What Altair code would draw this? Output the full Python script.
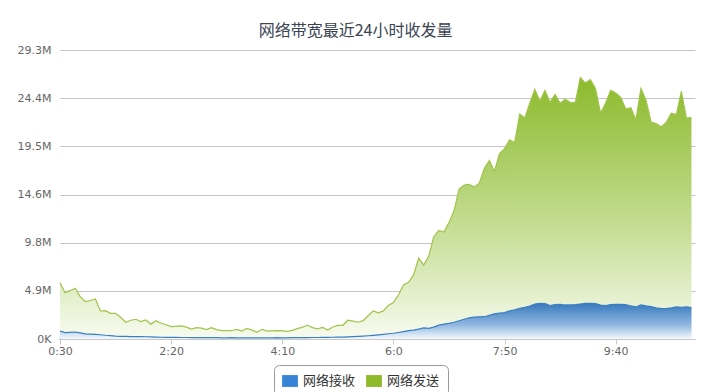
import json
import altair as alt
import pandas as pd

# ---- data (values in M, one sample every 5 minutes starting 0:30) ----
series_names = ["网络接收", "网络发送"]
start_minute = 30
step_minutes = 5

send_values = [
    5.71, 4.69, 4.9, 5.14, 4.3, 3.8, 3.9, 4.06, 2.84, 2.87,
    2.6, 2.6, 2.2, 1.7, 1.9, 2.0, 1.76, 1.93, 1.5, 1.86,
    1.6, 1.45, 1.25, 1.28, 1.32, 1.2, 1.01, 1.15, 1.1, 0.95,
    1.15, 0.95, 0.85, 0.84, 0.84, 0.98, 0.81, 1.08, 0.9, 0.68,
    0.98, 0.8, 0.82, 0.84, 0.82, 0.78, 0.88, 1.05, 1.2, 1.39,
    1.15, 1.02, 1.18, 0.9, 1.22, 1.38, 1.39, 1.9, 1.82, 1.7,
    1.86, 2.36, 2.85, 2.65, 2.85, 3.4, 3.7, 4.46, 5.47, 5.75,
    6.5, 8.2, 7.5, 8.4, 10.4, 11.0, 10.85, 11.8, 13.0, 15.2,
    15.6, 15.68, 15.4, 15.8, 17.3, 18.1, 17.0, 18.8, 19.3, 20.2,
    19.9, 22.8, 22.4, 23.9, 25.3, 24.1, 25.2, 24.0, 24.8, 23.9,
    24.3, 24.0, 23.96, 26.5, 25.95, 26.3, 25.4, 22.9, 23.9, 25.2,
    24.95, 24.5, 23.3, 23.45, 22.2, 25.4, 24.2, 22.0, 21.85, 21.5,
    21.95, 22.9, 22.75, 25.1, 22.4, 22.45,
]

recv_values = [
    0.81, 0.65, 0.68, 0.71, 0.62, 0.52, 0.5, 0.47, 0.43, 0.38,
    0.35, 0.3, 0.27, 0.26, 0.25, 0.25, 0.24, 0.23, 0.21, 0.2,
    0.18, 0.17, 0.17, 0.16, 0.15, 0.15, 0.14, 0.14, 0.13, 0.13,
    0.14, 0.13, 0.12, 0.12, 0.13, 0.12, 0.12, 0.11, 0.12, 0.12,
    0.11, 0.12, 0.12, 0.13, 0.12, 0.12, 0.13, 0.13, 0.14, 0.14,
    0.15, 0.15, 0.16, 0.17, 0.18, 0.19, 0.2, 0.22, 0.24, 0.27,
    0.3, 0.33, 0.37, 0.42, 0.47, 0.53, 0.58, 0.66, 0.75, 0.85,
    0.9, 1.0, 1.12, 1.08, 1.2, 1.4, 1.5, 1.58, 1.7, 1.85,
    2.0, 2.15, 2.22, 2.25, 2.26, 2.4, 2.55, 2.62, 2.67, 2.85,
    2.95, 3.1, 3.2, 3.35, 3.55, 3.62, 3.6, 3.4, 3.5, 3.52,
    3.45, 3.45, 3.48, 3.55, 3.62, 3.62, 3.6, 3.45, 3.38, 3.5,
    3.52, 3.52, 3.5, 3.35, 3.25, 3.45, 3.35, 3.28, 3.15, 3.08,
    3.08, 3.15, 3.25, 3.22, 3.25, 3.18,
]

x_tick_minutes = [30, 140, 250, 360, 470, 580]
y_max = 29.3
y_tick_labels = ["0K", "4.9M", "9.8M", "14.6M", "19.5M", "24.4M", "29.3M"]

# ---- tables ----
n = min(len(send_values), len(recv_values))
minutes = [start_minute + step_minutes * i for i in range(n)]
df_send = pd.DataFrame({"t": minutes, "v": send_values[:n]})
df_recv = pd.DataFrame({"t": minutes, "v": recv_values[:n]})
df_legend = pd.DataFrame({"t": [start_minute, start_minute], "v": [0, 0], "s": series_names})

y_step = y_max / (len(y_tick_labels) - 1)
y_ticks = [round(y_step * k, 4) for k in range(len(y_tick_labels))]
label_arr = json.dumps(y_tick_labels, ensure_ascii=False)

BLUE = "#3a7fc2"
GREEN = "#a0c44a"
CJK = "Noto Sans CJK SC"

x_enc = alt.X(
    "t:Q",
    scale=alt.Scale(domain=[30, 658.5], nice=False, zero=False),
    axis=alt.Axis(
        values=x_tick_minutes,
        labelExpr="floor(datum.value/60) + ':' + (datum.value % 60)",
        grid=False, domain=True, domainColor="#c8c8c8", ticks=True, tickSize=5,
        tickColor="#c8c8c8", labelPadding=1, labelFont="DejaVu Sans", labelFontSize=11,
        labelColor="#666", title=None, labelFlush=False,
    ),
)
y_enc = alt.Y(
    "v:Q",
    scale=alt.Scale(domain=[0, y_max], nice=False),
    axis=alt.Axis(
        values=y_ticks,
        labelExpr=f"{label_arr}[round(datum.value/{y_step})]",
        grid=True, gridColor="#c4c4c4", domain=False, ticks=False,
        labelPadding=9, labelFont="DejaVu Sans", labelFontSize=11, labelColor="#666",
        title=None,
    ),
)

green_grad = alt.Gradient(
    gradient="linear", x1=0, x2=0, y1=0, y2=1,
    stops=[alt.GradientStop(color="#8cba2c", offset=0),
           alt.GradientStop(color="#c2dc8f", offset=0.55),
           alt.GradientStop(color="#f8fbf0", offset=1)],
)
blue_grad = alt.Gradient(
    gradient="linear", x1=0, x2=0, y1=0, y2=1,
    stops=[alt.GradientStop(color="#3879bd", offset=0),
           alt.GradientStop(color="#8fb7e0", offset=0.6),
           alt.GradientStop(color="#f5f9fd", offset=1)],
)

legend_layer = alt.Chart(df_legend).mark_point(filled=True, size=1, opacity=1).encode(
    x=x_enc, y=y_enc,
    color=alt.Color(
        "s:N",
        scale=alt.Scale(domain=series_names, range=["#3784d6", "#8fbb2b"]),
        legend=alt.Legend(
            title=None, orient="none", legendX=214, legendY=315, direction="horizontal",
            symbolType="M-1,-0.75 L1,-0.75 L1,0.75 L-1,0.75 Z", symbolSize=250,
            symbolStrokeWidth=0, symbolOpacity=1, labelFont=CJK, labelFontSize=13,
            labelColor="#333", strokeColor="#9a9a9a", cornerRadius=5, padding=8,
            columnPadding=10, labelOffset=5,
        ),
    ),
)

send_area = alt.Chart(df_send).mark_area(fill=green_grad, interpolate="linear").encode(x=x_enc, y=y_enc)
send_line = alt.Chart(df_send).mark_line(color=GREEN, strokeWidth=1.2).encode(x=x_enc, y=y_enc)
recv_area = alt.Chart(df_recv).mark_area(fill=blue_grad, interpolate="linear").encode(x=x_enc, y=y_enc)
recv_line = alt.Chart(df_recv).mark_line(color=BLUE, strokeWidth=1.2).encode(x=x_enc, y=y_enc)

chart = alt.layer(legend_layer, send_area, send_line, recv_area, recv_line).properties(
    width=635,
    height=289,
    autosize=alt.AutoSizeParams(type="none"),
    padding={"left": 52, "top": 42, "right": 1, "bottom": 60},
    background="white",
    title=alt.TitleParams(
        "网络带宽最近24小时收发量", font=CJK, fontSize=16, fontWeight="normal",
        color="#3a4452", anchor="middle", offset=5, dx=-22,
    ),
).configure_view(stroke=None)

chart.save("out.html", embed_options={"renderer": "svg", "actions": False})
